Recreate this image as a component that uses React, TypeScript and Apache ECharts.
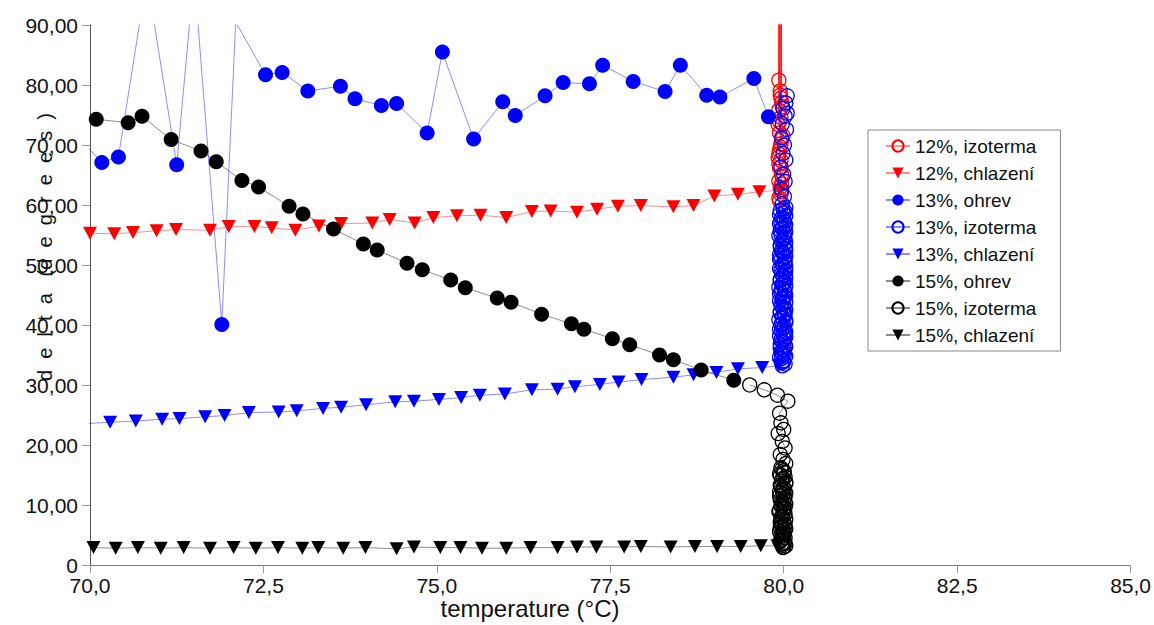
import React, { useEffect, useRef } from "react";
import * as echarts from "echarts";

// Axis ranges and tick steps
const X_MIN = 70;
const X_MAX = 85;
const X_STEP = 2.5;
const Y_MIN = 0;
const Y_MAX = 90;
const Y_STEP = 10;

const SERIES_NAMES = [
  "12%, izoterma",
  "12%, chlazení",
  "13%, ohrev",
  "13%, izoterma",
  "13%, chlazení",
  "15%, ohrev",
  "15%, izoterma",
  "15%, chlazení",
];

// 12 % – isothermal hold at 80 °C (several readings run off the top of the scale)
const iso12: number[][] = [
  [79.93, 80.8], [79.92, 130], [79.95, 78.3], [79.94, 128], [79.97, 77.1],
  [79.96, 126], [79.93, 75.8], [79.98, 124], [79.96, 74.6], [79.95, 122],
  [79.92, 73.4], [79.93, 127], [79.94, 72.0], [79.97, 125], [79.97, 70.9],
  [79.95, 69.7], [79.93, 68.5], [79.96, 67.4], [79.94, 66.2], [79.97, 65.1],
  [79.93, 64.0], [79.95, 62.9], [79.96, 61.8], [79.94, 60.7], [79.97, 63.5],
  [79.93, 66.8], [79.96, 70.2], [79.94, 73.9], [79.98, 76.4], [79.95, 79.0],
  [79.99, 71.5], [79.92, 67.9], [79.98, 64.7], [79.93, 61.2], [79.96, 77.8],
  [79.94, 69.1], [79.97, 62.2],
];

// 12 % – cooling
const cool12: number[][] = [
  [70.0, 55.3], [70.35, 55.2], [70.62, 55.4], [70.96, 55.7], [71.24, 55.9],
  [71.73, 55.8], [72.0, 56.4], [72.37, 56.4], [72.62, 56.2], [72.96, 55.8],
  [73.3, 56.5], [73.62, 56.9], [74.07, 57.0], [74.32, 57.6], [74.68, 57.0],
  [74.95, 57.9], [75.29, 58.2], [75.63, 58.3], [76.0, 57.9], [76.37, 58.9],
  [76.64, 59.0], [77.02, 58.8], [77.31, 59.3], [77.61, 59.8], [77.94, 59.9],
  [78.41, 59.7], [78.7, 59.9], [79.0, 61.5], [79.34, 61.8], [79.65, 62.2],
  [79.95, 62.5],
];

// 13 % – heating
const heat13: number[][] = [
  [69.9, 70.4], [70.17, 67.1], [70.41, 68.0], [70.82, 98.0], [71.25, 66.7],
  [71.5, 98.5], [71.9, 40.1], [72.1, 90.5], [72.53, 81.7], [72.77, 82.1],
  [73.14, 79.0], [73.61, 79.8], [73.82, 77.7], [74.2, 76.6], [74.42, 76.9],
  [74.86, 72.0], [75.08, 85.5], [75.53, 71.0], [75.95, 77.2], [76.13, 74.9],
  [76.56, 78.2], [76.82, 80.4], [77.2, 80.2], [77.39, 83.3], [77.83, 80.6],
  [78.29, 78.9], [78.51, 83.3], [78.89, 78.3], [79.08, 78.0], [79.57, 81.1],
  [79.78, 74.7],
];

// 13 % – isothermal hold at 80 °C
const iso13: number[][] = [
  [80.05, 78.2], [80.03, 77.0], [79.99, 76.1], [80.05, 75.3], [80.02, 74.8],
  [79.98, 73.5], [80.04, 72.6], [79.97, 71.2], [80.01, 70.0], [79.99, 68.6],
  [80.03, 67.5], [79.96, 66.3], [80.0, 65.1], [80.02, 63.9], [79.97, 62.6],
  [80.01, 61.4], [79.98, 60.2], [80.03, 59.6], [79.99, 59.4], [79.95, 59.1],
  [80.02, 58.9], [80.0, 58.7], [79.94, 58.4], [80.03, 58.2], [79.97, 57.8],
  [80.0, 57.6], [80.01, 57.3], [79.96, 57.1], [79.94, 56.9], [80.03, 56.7],
  [80.02, 56.4], [79.98, 56.2], [79.98, 56.0], [79.95, 55.8], [80.03, 55.5],
  [80.01, 55.3], [79.96, 55.1], [79.93, 54.9], [80.01, 54.6], [80.02, 54.4],
  [79.99, 54.2], [79.97, 53.9], [80.03, 53.7], [80.0, 53.5], [79.95, 53.3],
  [79.95, 53.0], [80.02, 52.8], [80.03, 52.6], [79.97, 52.4], [79.98, 52.1],
  [80.0, 51.9], [79.94, 51.7], [80.03, 51.5], [80.01, 51.2], [79.94, 51.0],
  [79.96, 50.8], [80.02, 50.6], [80.02, 50.3], [79.98, 50.1], [79.99, 49.9],
  [80.03, 49.7], [79.94, 49.4], [79.96, 49.2], [80.03, 49.0], [80.01, 48.8],
  [79.97, 48.5], [79.99, 48.3], [80.0, 48.1], [80.03, 47.9], [79.95, 47.6],
  [79.95, 47.4], [80.02, 47.2], [80.0, 47.0], [79.98, 46.7], [80.03, 46.5],
  [79.93, 46.3], [79.97, 46.1], [80.01, 45.8], [80.02, 45.6], [79.96, 45.4],
  [79.94, 45.2], [80.03, 44.9], [80.01, 44.7], [79.99, 44.5], [79.98, 44.3],
  [79.94, 44.0], [80.03, 43.8], [80.0, 43.6], [79.96, 43.4], [79.97, 43.1],
  [80.0, 42.9], [80.02, 42.7], [80.03, 42.5], [79.95, 42.2], [79.95, 42.0],
  [80.01, 41.8], [80.02, 41.6], [79.98, 41.3], [79.98, 41.1], [79.93, 40.9],
  [80.03, 40.7], [80.03, 40.4], [79.97, 40.2], [79.96, 40.0], [80.01, 39.8],
  [80.0, 39.5], [79.94, 39.3], [79.97, 39.1], [80.03, 38.9], [80.02, 38.6],
  [79.99, 38.4], [79.94, 38.2], [80.03, 38.0], [80.01, 37.7], [79.96, 37.5],
  [79.98, 37.3], [80.0, 37.1], [79.95, 36.8], [80.02, 36.6], [80.03, 36.4],
  [79.95, 36.2], [79.99, 35.9], [80.01, 35.7], [79.96, 35.5], [79.98, 35.3],
  [80.01, 35.0], [80.03, 34.8], [79.94, 34.6], [79.97, 34.4], [80.0, 34.1],
  [80.0, 33.9], [79.97, 33.7], [80.02, 33.5], [79.98, 33.2],
];

// 13 % – cooling
const cool13: number[][] = [
  [69.7, 23.4], [70.29, 23.8], [70.66, 24.0], [71.04, 24.3], [71.29, 24.4],
  [71.66, 24.7], [71.94, 24.9], [72.29, 25.4], [72.72, 25.5], [72.98, 25.7],
  [73.36, 26.1], [73.62, 26.3], [73.98, 26.7], [74.4, 27.2], [74.67, 27.3],
  [75.03, 27.6], [75.35, 27.9], [75.62, 28.3], [75.98, 28.5], [76.37, 29.2],
  [76.74, 29.3], [76.99, 29.7], [77.35, 30.1], [77.62, 30.5], [77.95, 30.9],
  [78.41, 31.3], [78.7, 31.7], [79.03, 32.1], [79.34, 32.7], [79.69, 32.9],
  [79.93, 33.2],
];

// 15 % – heating
const heat15: number[][] = [
  [70.09, 74.3], [70.55, 73.7], [70.75, 74.8], [71.17, 70.9], [71.6, 69.0],
  [71.82, 67.2], [72.19, 64.1], [72.43, 63.0], [72.87, 59.8], [73.07, 58.5],
  [73.51, 56.0], [73.94, 53.5], [74.14, 52.5], [74.57, 50.3], [74.79, 49.2],
  [75.2, 47.5], [75.41, 46.2], [75.87, 44.5], [76.07, 43.8], [76.51, 41.8],
  [76.94, 40.2], [77.12, 39.3], [77.53, 37.7], [77.78, 36.7], [78.21, 35.0],
  [78.41, 34.2], [78.81, 32.5], [79.28, 30.8],
];

// 15 % – isothermal hold at 80 °C
const iso15: number[][] = [
  [79.51, 30.0], [79.72, 29.2], [79.91, 28.3], [80.06, 27.3], [79.94, 25.3],
  [79.96, 23.7], [80.0, 22.6], [79.92, 21.9], [79.98, 20.6], [80.02, 19.5],
  [79.95, 18.4], [79.99, 17.6], [80.03, 16.9], [79.96, 16.2], [79.97, 15.9],
  [80.0, 15.7], [80.01, 15.4], [79.94, 15.2], [79.95, 14.9], [80.02, 14.7],
  [79.99, 14.4], [79.97, 14.2], [80.03, 13.8], [80.03, 13.6], [79.95, 13.3],
  [79.96, 13.1], [80.0, 12.9], [80.01, 12.6], [79.98, 12.4], [79.94, 12.2],
  [80.03, 12.0], [79.99, 11.8], [79.94, 11.5], [80.02, 11.3], [80.01, 11.1],
  [79.95, 10.9], [79.97, 10.6], [80.0, 10.4], [80.03, 10.2], [79.97, 10.0],
  [79.96, 9.8], [80.02, 9.6], [80.0, 9.3], [79.94, 9.1], [79.93, 8.9],
  [79.99, 8.7], [80.02, 8.5], [80.01, 8.3], [79.98, 8.1], [79.96, 7.9],
  [80.03, 7.6], [80.0, 7.4], [79.95, 7.2], [79.97, 7.0], [80.01, 6.8],
  [80.02, 6.6], [79.97, 6.4], [79.95, 6.2], [80.03, 6.0], [79.99, 5.8],
  [79.94, 5.6], [80.01, 5.4], [80.0, 5.2], [79.96, 5.0], [79.98, 4.8],
  [80.0, 4.6], [80.02, 4.5], [79.98, 4.3], [79.96, 4.1], [79.95, 3.9],
  [80.01, 3.8], [80.02, 3.6], [79.97, 3.5], [79.98, 3.3], [80.03, 3.2],
  [80.0, 3.0], [79.99, 2.9],
];

// 15 % – cooling
const cool15: number[][] = [
  [70.05, 2.9], [70.37, 2.8], [70.69, 2.9], [71.02, 2.8], [71.35, 2.9],
  [71.73, 2.8], [72.07, 2.9], [72.39, 2.8], [72.71, 2.9], [73.06, 2.8],
  [73.29, 2.9], [73.65, 2.8], [73.97, 2.9], [74.42, 2.7], [74.67, 3.0],
  [75.05, 2.9], [75.34, 2.9], [75.65, 2.8], [76.0, 2.8], [76.35, 2.9],
  [76.74, 2.9], [77.02, 3.0], [77.3, 3.0], [77.7, 3.0], [77.94, 3.1],
  [78.37, 3.0], [78.72, 3.1], [79.04, 3.1], [79.38, 3.1], [79.67, 3.2],
  [79.91, 3.2],
];

const FONT = "Liberation Sans, Arial, sans-serif";

type Marker = "open" | "dot" | "tri";

function makeSeries(name: string, data: number[][], marker: Marker, color: string) {
  const base: any = {
    name,
    type: "line",
    data,
    clip: true,
    showAllSymbol: true,
    // thin, half-transparent connecting lines; where many overlap they build up to full colour
    lineStyle: { color, width: 1, opacity: 0.45 },
    emphasis: { disabled: true },
  };
  if (marker === "open") {
    base.symbol = "circle";
    base.symbolSize = 14;
    base.itemStyle = { color: "rgba(255,255,255,0)", borderColor: color, borderWidth: 1.3 };
  } else if (marker === "dot") {
    base.symbol = "circle";
    base.symbolSize = 15;
    base.itemStyle = { color };
  } else {
    base.symbol = "triangle";
    base.symbolSize = [14, 13];
    base.symbolRotate = 180;
    base.itemStyle = { color };
  }
  return base;
}

export default function App() {
  const ref = useRef<HTMLDivElement>(null);

  useEffect(() => {
    if (!ref.current) return;
    const chart = echarts.init(ref.current, undefined, { renderer: "svg" });
    const RED = "#ff0000";
    const BLUE = "#0000ff";
    const BLACK = "#000000";

    chart.setOption({
      animation: false,
      backgroundColor: "#ffffff",
      textStyle: { fontFamily: FONT },
      grid: { left: 90, right: 20, top: 25, bottom: 60, containLabel: false },
      xAxis: {
        type: "value",
        min: X_MIN,
        max: X_MAX,
        interval: X_STEP,
        axisLine: { show: true, onZero: false, lineStyle: { color: "#777", width: 1 } },
        axisTick: { show: true, length: 8, lineStyle: { color: "#999" } },
        splitLine: { show: false },
        axisLabel: {
          color: "#111",
          fontSize: 21,
          fontFamily: FONT,
          margin: 10,
          formatter: (v: number) => v.toFixed(1).replace(".", ","),
        },
      },
      yAxis: {
        type: "value",
        min: Y_MIN,
        max: Y_MAX,
        interval: Y_STEP,
        axisLine: { show: true, onZero: false, lineStyle: { color: "#555", width: 1 } },
        axisTick: { show: true, length: 8, lineStyle: { color: "#999" } },
        splitLine: { show: false },
        axisLabel: {
          color: "#111",
          fontSize: 21,
          fontFamily: FONT,
          margin: 12,
          formatter: (v: number) => (v === 0 ? "0" : v.toFixed(2).replace(".", ",")),
        },
      },
      legend: {
        data: SERIES_NAMES,
        orient: "vertical",
        left: 868,
        top: 130,
        padding: [6, 24, 6, 17],
        itemWidth: 24,
        itemHeight: 14,
        itemGap: 7,
        borderColor: "#888",
        borderWidth: 1,
        selectedMode: false,
        textStyle: { fontSize: 19, fontFamily: FONT, color: "#111", lineHeight: 20 },
      },
      graphic: [
        {
          type: "text",
          x: 530,
          y: 608,
          style: {
            text: "temperature (°C)",
            font: `24px ${FONT}`,
            fill: "#111",
            textAlign: "center",
            textVerticalAlign: "middle",
          },
        },
        {
          type: "text",
          x: 45,
          y: 247,
          rotation: Math.PI / 2,
          style: {
            text: "d\u00a0\u00a0e\u00a0\u00a0l\u00a0\u00a0t\u00a0\u00a0a\u00a0\u00a0\u00a0(d\u00a0\u00a0e\u00a0\u00a0g\u00a0\u00a0r\u00a0\u00a0e\u00a0\u00a0e\u00a0\u00a0s\u00a0\u00a0)",
            font: `20px ${FONT}`,
            fill: "#111",
            textAlign: "center",
            textVerticalAlign: "middle",
          },
        },
      ],
      series: [
        makeSeries(SERIES_NAMES[0], iso12, "open", RED),
        makeSeries(SERIES_NAMES[1], cool12, "tri", RED),
        makeSeries(SERIES_NAMES[2], heat13, "dot", BLUE),
        makeSeries(SERIES_NAMES[3], iso13, "open", BLUE),
        makeSeries(SERIES_NAMES[4], cool13, "tri", BLUE),
        makeSeries(SERIES_NAMES[5], heat15, "dot", BLACK),
        makeSeries(SERIES_NAMES[6], iso15, "open", BLACK),
        makeSeries(SERIES_NAMES[7], cool15, "tri", BLACK),
      ],
    });

    return () => chart.dispose();
  }, []);

  return (
    <div
      ref={ref}
      style={{ position: "fixed", left: 0, top: 0, width: 1154, height: 625, background: "#fff" }}
    />
  );
}
